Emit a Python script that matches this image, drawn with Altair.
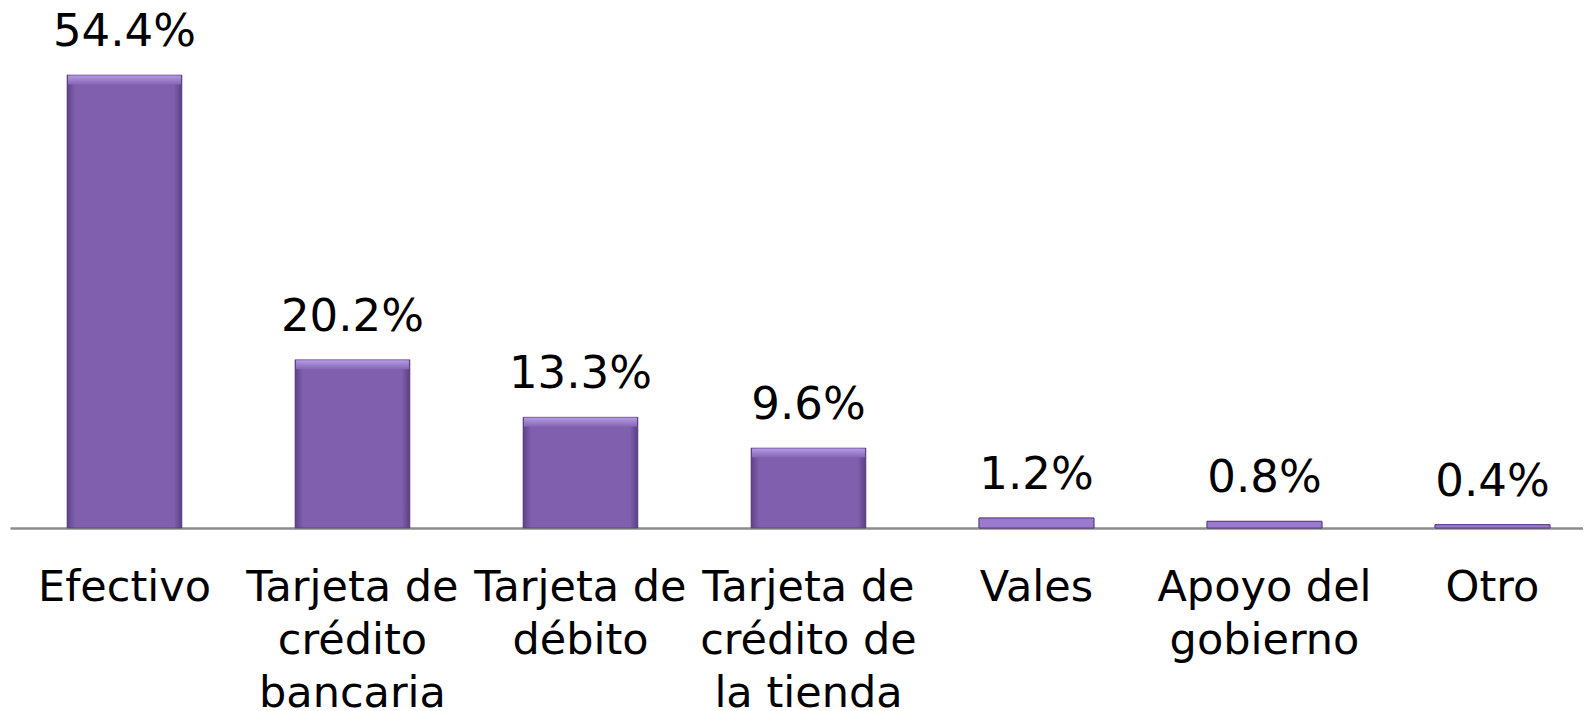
import altair as alt
import pandas as pd

categories = ["Efectivo", "Tarjeta de|crédito|bancaria", "Tarjeta de|débito",
              "Tarjeta de|crédito de|la tienda", "Vales", "Apoyo del|gobierno", "Otro"]
values = [54.4, 20.2, 13.3, 9.6, 1.2, 0.8, 0.4]

df = pd.DataFrame({"cat": categories, "value": values})

FONT = "DejaVu Sans"

bar_fill = {
    "gradient": "linear", "x1": 0, "y1": 0, "x2": 1, "y2": 0,
    "stops": [
        {"offset": 0.0, "color": "#5e4288"},
        {"offset": 0.07, "color": "#7f5fae"},
        {"offset": 0.93, "color": "#7f5fae"},
        {"offset": 1.0, "color": "#5a3f82"},
    ],
}
bevel_fill = {
    "gradient": "linear", "x1": 0, "y1": 0, "x2": 0, "y2": 1,
    "stops": [
        {"offset": 0.0, "color": "#b89ee6"},
        {"offset": 1.0, "color": "#8566b5"},
    ],
}

x = alt.X("cat:N", sort=categories, title=None,
          scale=alt.Scale(paddingInner=0.496, paddingOuter=0.1975, align=0.633),
          axis=alt.Axis(labelAngle=0, labelFont=FONT, labelFontSize=43, labelColor="black",
                        labelExpr="split(datum.label, '|')", labelLineHeight=53,
                        labelLimit=0, labelOverlap=False, labelBound=False,
                        ticks=False, tickSize=0, labelPadding=38,
                        domainColor="#8c8c8c", domainWidth=2.5, grid=False))
y = alt.Y("value:Q", title=None, axis=None,
          scale=alt.Scale(domain=[0, 61.25], nice=False, zero=True))

base = alt.Chart(df).encode(x=x, y=y)

bars = base.mark_bar(fill=bar_fill, stroke="#4e3672", strokeWidth=1, strokeOpacity=0.6)
bevel = base.transform_filter("datum.value >= 5").mark_tick(
    orient="horizontal", thickness=9, size=113, yOffset=5, fill=bevel_fill, opacity=0.95)
small = base.transform_filter("datum.value < 5").mark_bar(
    fill="#9a7bd0", stroke="#5a3f82", strokeWidth=1)
labels = base.transform_calculate(
    lbl="format(datum.value, '.1f') + '%'"
).mark_text(font=FONT, fontSize=45, color="black", baseline="alphabetic", dy=-29).encode(
    text="lbl:N")

chart = alt.layer(bars, small, bevel, labels).properties(
    width=1573, height=510,
    padding={"left": 2, "top": 10, "right": 0, "bottom": 180},
    autosize=alt.AutoSizeParams(type="none"),
).configure(background="white").configure_view(strokeWidth=0, stroke="transparent")

chart.save("out.html", embed_options={"renderer": "svg", "actions": False})
